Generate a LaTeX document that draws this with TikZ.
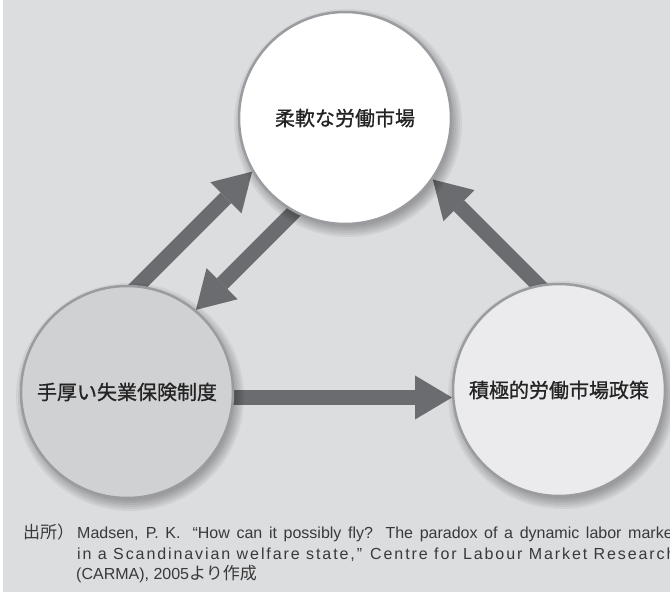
\documentclass[tikz,border=0pt]{standalone}
\usepackage{fontspec}
\newfontfamily\jp[FakeBold=0.9]{Noto Sans CJK JP}
\newfontfamily\jpl{Noto Sans CJK JP}
\newfontfamily\citefont{Liberation Sans}
\usetikzlibrary{arrows.meta,calc}
\definecolor{bg}{RGB}{220,221,223}
\definecolor{arrowc}{RGB}{107,108,111}
\definecolor{ring}{RGB}{155,156,160}
\definecolor{fillL}{RGB}{208,209,211}
\definecolor{fillR}{RGB}{235,235,237}
\definecolor{txt}{RGB}{35,35,35}
\begin{document}
\begin{tikzpicture}[x=1pt,y=-1pt,
  bubble/.style={circle, draw=ring, line width=2.5pt, minimum size=212pt, inner sep=0pt,
    font=\jp\fontsize{20}{24}\selectfont, text=txt},
  arr/.style={draw=arrowc, line width=15pt,
    -{Triangle[width=44pt,length=37pt,line width=0pt]}},
  citetext/.style={anchor=base west, inner sep=0pt, text=txt!90,
    font=\citefont\fontsize{16}{19}\selectfont}
]
\useasboundingbox (0,0) rectangle (670,592);
\clip (0,0) rectangle (670,592);
\fill[white] (0,0) rectangle (670,592);
\fill[bg] (3,0) rectangle (670,592);

% positions (hidden shapes used for anchors)
\path (345,118) node[bubble, draw=none, text opacity=0] (top) {};
\path (127,392) node[bubble, draw=none, text opacity=0] (left) {};
\path (559,390) node[bubble, draw=none, text opacity=0] (right) {};

% arrows
\draw[arr] ($(top.210)+(-140,140)$) -- (top.210);
\draw[arr] ($(left.50)+(110,-110)$) -- (left.50);
\draw[arr] ($(top.-35)+(130,130)$) -- (top.-35);
\draw[arr] ($(right.184)+(-240,0)$) -- (right.184);

% shadows
\foreach \c in {top,left,right}{
  \foreach \r in {98,100,...,114}{
    \fill[black, opacity=0.05] ($(\c)+(3,5)$) circle[radius=\r pt];
  }
}

% circles
\node[bubble, fill=white] (topc) at (top) {柔軟な労働市場};
\node[bubble, fill=fillL] (leftc) at (left) {手厚い失業保険制度};
\node[bubble, fill=fillR] (rightc) at (right) {積極的労働市場政策};

% source
\node[anchor=base west, inner sep=0pt, text=txt!90, font=\jpl\fontsize{17}{19}\selectfont] (src) at (23,538) {出所）};
\node[citetext] (l1) at (77,538) {\makebox[600pt][s]{Madsen, P. K.\hspace{12pt}“How can it possibly fly? The paradox of a dynamic labor market}};
\node[citetext, font=\citefont\fontsize{16}{19}\selectfont\addfontfeatures{LetterSpace=12}] (l2) at (77,559) {in a Scandinavian welfare state,”\hspace{8pt}Centre for Labour Market Research};
\node[citetext] (l3) at (76,579) {(CARMA), 2005{\jpl\fontsize{17}{19}\selectfont より作成}};
\end{tikzpicture}
\end{document}
